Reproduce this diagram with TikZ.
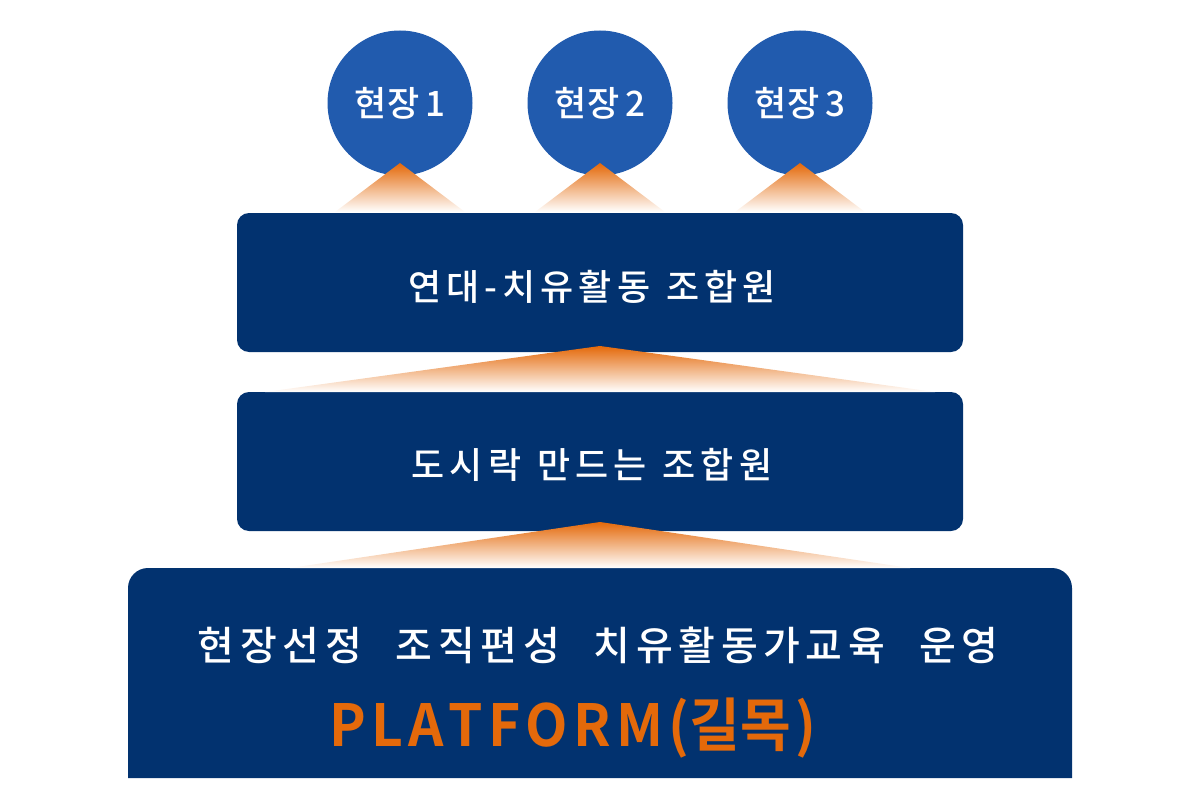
\documentclass[tikz,border=0pt]{standalone}
\usepackage{fontspec}
\newfontfamily\krm{Noto Sans CJK KR Medium}
\newfontfamily\krb[LetterSpace=14]{Noto Sans CJK KR Medium}
\newfontfamily\krbold{Noto Sans CJK KR Bold}
\definecolor{navy}{HTML}{02326F}
\definecolor{circblue}{HTML}{215BAE}
\definecolor{orng}{HTML}{E4690A}
\tikzset{
  site/.style={circle, fill=circblue, minimum size=145pt, inner sep=0pt, text=white, font=\krm\fontsize{35}{38}\selectfont},
  tier/.style={rectangle, rounded corners=12pt, fill=navy, minimum width=726pt, minimum height=139pt, inner sep=0pt},
  tiertext/.style={text=white, inner sep=0pt, font=\krb\fontsize{36}{40}\selectfont},
  glow/.style={top color=orng, bottom color=white, draw=none}
}
\newcommand{\lgap}{\hspace{5.5pt}}
\begin{document}
\begin{tikzpicture}[x=1pt,y=-1pt]
\useasboundingbox (0,0) rectangle (1200,800);
% circles
\node[site] (s1) at (400,103) {현장\,1};
\node[site] (s2) at (600,103) {현장\,2};
\node[site] (s3) at (800,103) {현장\,3};
% boxes
\node[tier] (b1) at (600,282.5) {};
\node[tiertext] (t1) at (592,287) {연대-치유활동\hspace{16pt}조합원};
\node[tier] (b2) at (600,461.5) {};
\node[tiertext] (t2) at (592,465) {도시락\hspace{16pt}만드는\hspace{16pt}조합원};
\fill[navy, rounded corners=20pt] (128,778) -- (128,568) -- (1072,568) [sharp corners] -- (1072,778) -- cycle;
\node[inner sep=0pt] (b3) at (600,673) {};
\node[tiertext, font=\krb\fontsize{40}{44}\selectfont] (t3) at (598,645) {현장선정\hspace{34pt}조직편성\hspace{34pt}치유활동가교육\hspace{34pt}운영};
\node[text=orng, inner sep=0pt, font=\krbold\fontsize{58}{62}\selectfont, xscale=0.95] (t4) at (573,728) {P\lgap L\lgap A\lgap T\lgap F\lgap O\lgap R\lgap M\lgap(길목\lgap)};
% glows
\shade[glow] (400,163) -- (465,212) -- (335,212) -- cycle;
\shade[glow] (600,163) -- (665,212) -- (535,212) -- cycle;
\shade[glow] (800,163) -- (865,212) -- (735,212) -- cycle;
\shade[glow] (600,346) -- (935,392) -- (265,392) -- cycle;
\shade[glow] (600,522) -- (910,568) -- (290,568) -- cycle;
\end{tikzpicture}
\end{document}
